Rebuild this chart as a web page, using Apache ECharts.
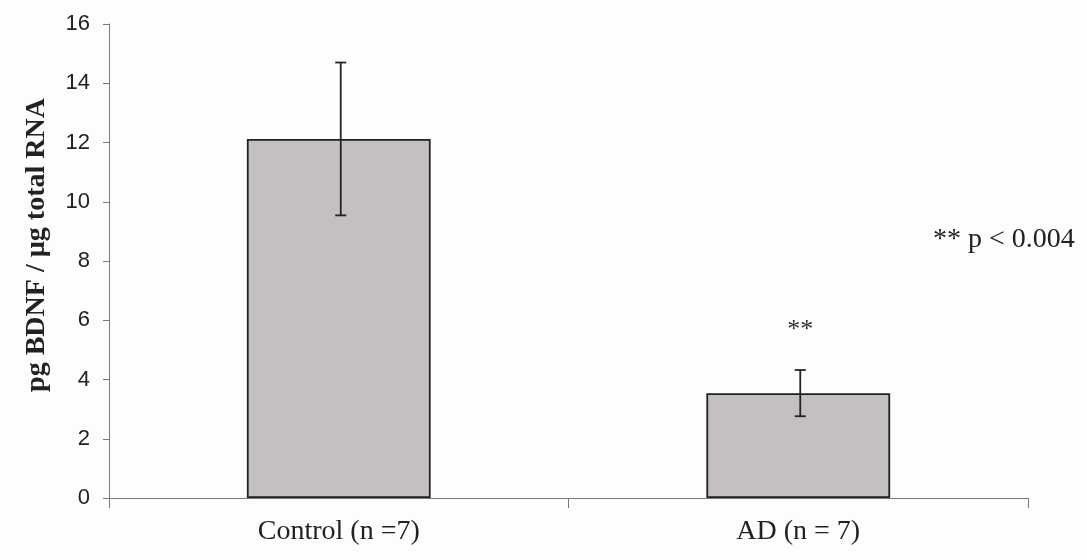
<!DOCTYPE html>
<html>
<head>
<meta charset="utf-8">
<script src="https://cdn.jsdelivr.net/npm/echarts@6/dist/echarts.min.js"></script>
<style>
  html, body { margin: 0; padding: 0; background: #fdfdfd; }
  #chart { width: 1087px; height: 560px; }
</style>
</head>
<body>
<div id="chart"></div>
<script>
// BDNF mRNA levels, control vs. Alzheimer's disease
const categories = ['Control (n =7)', 'AD (n = 7)'];
const means = [12.12, 3.54];
const errors = [2.58, 0.78];
const sigMarks = ['', '**'];
const yTicks = { min: 0, max: 16, interval: 2 };
const yTitle = 'pg BDNF / µg total RNA';
const note = '** p < 0.004';

const chart = echarts.init(document.getElementById('chart'));

const errorData = means.map((m, i) => [i, m - errors[i], m + errors[i]]);
const sigData = means.map((m, i) => [i, m + errors[i], sigMarks[i]]);

chart.setOption({
  animation: false,
  backgroundColor: '#fdfdfd',
  grid: { left: 109, right: 59, top: 24, bottom: 62 },
  xAxis: {
    type: 'category',
    data: categories,
    boundaryGap: true,
    axisLine: { lineStyle: { color: '#7a7a7a', width: 1 } },
    axisTick: { show: true, length: 10, lineStyle: { color: '#7a7a7a' } },
    axisLabel: {
      margin: 20,
      color: '#222',
      fontFamily: 'Liberation Serif',
      fontSize: 28
    }
  },
  yAxis: {
    type: 'value',
    min: yTicks.min,
    max: yTicks.max,
    interval: yTicks.interval,
    splitLine: { show: false },
    axisLine: { show: true, lineStyle: { color: '#7a7a7a', width: 1 } },
    axisTick: { show: true, length: 6, lineStyle: { color: '#7a7a7a' } },
    axisLabel: {
      margin: 19,
      color: '#222',
      fontFamily: 'Liberation Sans',
      fontSize: 22
    }
  },
  series: [
    {
      type: 'bar',
      data: means,
      barWidth: '40%',
      itemStyle: { color: '#c3bfc3', borderColor: '#222', borderWidth: 1.8 }
    },
    {
      type: 'custom',
      data: errorData,
      z: 10,
      renderItem: function (params, api) {
        const x = api.coord([api.value(0), api.value(1)])[0] + 2;
        const yLo = api.coord([api.value(0), api.value(1)])[1];
        const yHi = api.coord([api.value(0), api.value(2)])[1];
        const half = 5.5;
        const style = { stroke: '#222', lineWidth: 1.8 };
        return {
          type: 'group',
          children: [
            { type: 'line', shape: { x1: x, y1: yLo, x2: x, y2: yHi }, style },
            { type: 'line', shape: { x1: x - half, y1: yHi, x2: x + half, y2: yHi }, style },
            { type: 'line', shape: { x1: x - half, y1: yLo, x2: x + half, y2: yLo }, style }
          ]
        };
      }
    },
    {
      type: 'custom',
      data: sigData,
      z: 10,
      renderItem: function (params, api) {
        const p = api.coord([api.value(0), api.value(1)]);
        return {
          type: 'text',
          x: p[0] + 2,
          y: p[1] - 40,
          style: {
            text: sigMarks[params.dataIndex],
            fill: '#333',
            font: '26px "Liberation Serif"',
            align: 'center',
            verticalAlign: 'middle'
          }
        };
      }
    }
  ],
  graphic: [
    {
      type: 'text',
      x: 37,
      y: 245,
      rotation: Math.PI / 2,
      style: {
        text: yTitle,
        fill: '#222',
        font: 'bold 28px "Liberation Serif"',
        align: 'center',
        verticalAlign: 'middle'
      }
    },
    {
      type: 'text',
      x: 933,
      y: 240,
      style: {
        text: note,
        fill: '#222',
        font: '28px "Liberation Serif"',
        verticalAlign: 'middle'
      }
    }
  ]
});
</script>
</body>
</html>
